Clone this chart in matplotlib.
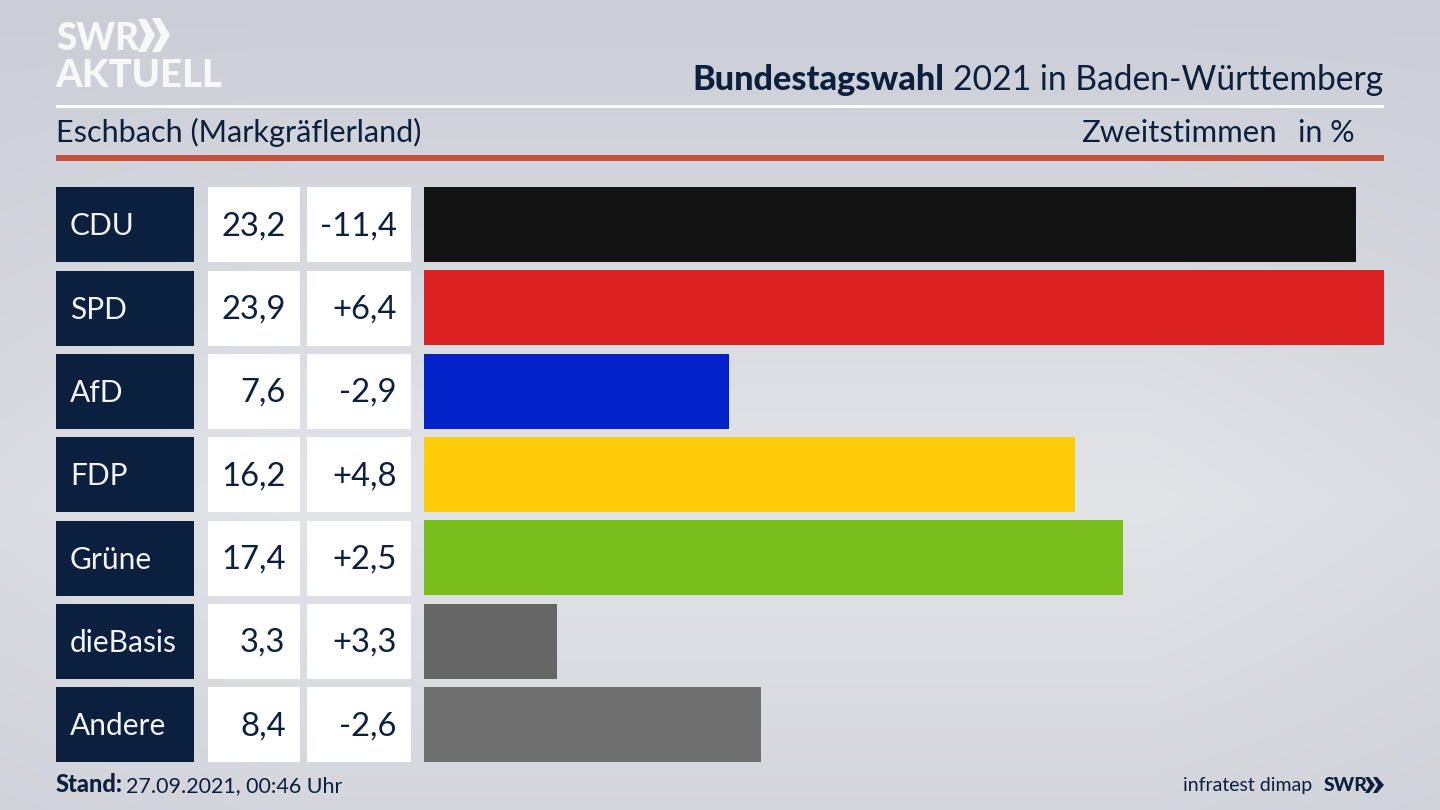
import numpy as np
import matplotlib
matplotlib.use("Agg")
import matplotlib.pyplot as plt
from matplotlib.patches import Rectangle, Polygon

parties = ["CDU", "SPD", "AfD", "FDP", "Grüne", "dieBasis", "Andere"]
shares = [23.2, 23.9, 7.6, 16.2, 17.4, 3.3, 8.4]
changes = ["-11,4", "+6,4", "-2,9", "+4,8", "+2,5", "+3,3", "-2,6"]
colors = ["#131313", "#da211f", "#0221c8", "#ffcc0a", "#78bd1c", "#666666", "#707071"]

NAVY = "#0b1f3f"
FONT = "Lato"
plt.rcParams["font.family"] = [FONT, "DejaVu Sans"]

fig = plt.figure(figsize=(14.4, 8.1), dpi=100)

# background + frame in pixel coordinates
ov = fig.add_axes([0, 0, 1, 1])
ov.set_xlim(0, 1440)
ov.set_ylim(810, 0)
ov.axis("off")

yy, xx = np.mgrid[0:1:162j, 0:1:288j]
v = 1 - np.abs(yy - 0.62) / 0.62
v = np.clip(v, 0, 1)
edge = 1 - np.clip((np.abs(xx - 0.5) - 0.3) / 0.2, 0, 1) * 0.35
t = (v * edge)[..., None]
top = np.array([203, 206, 213]) / 255
mid = np.array([226, 228, 232]) / 255
ov.imshow(top + (mid - top) * t, extent=(0, 1440, 810, 0), aspect="auto",
          interpolation="bicubic", zorder=0)


def rect(x0, y0, x1, y1, c, z=1):
    ov.add_patch(Rectangle((x0, y0), x1 - x0, y1 - y0, fc=c, ec="none", zorder=z))


rect(56, 104.5, 1384, 107.5, "#ffffff")
rect(56, 155, 1384, 160.5, "#c9503d")

# logo
LOGO = "#f7f8f9"
ov.text(56, 50, "SWR", fontsize=26.5, fontweight="black", color=LOGO, ha="left", va="baseline", zorder=2)
ov.text(55, 87, "AKTUELL", fontsize=27.5, fontweight="black", color=LOGO, ha="left", va="baseline", zorder=2)
ov.add_patch(Polygon([(138, 19), (146, 19), (155, 35), (146, 52), (138, 52), (146, 35)],
                     fc=LOGO, ec="none", zorder=2))
ov.add_patch(Polygon([(152, 18), (160, 18), (170, 35), (160, 52), (152, 52), (161, 35)],
                     fc=LOGO, ec="none", zorder=2))

# header text
ov.text(1383, 90, "2021 in Baden-Württemberg", fontsize=24.2, color=NAVY, ha="right", va="baseline")
ov.text(944, 90, "Bundestagswahl", fontsize=24.7, fontweight="black", color=NAVY, ha="right", va="baseline")
ov.text(56, 142, "Eschbach (Markgräflerland)", fontsize=22.1, color=NAVY, ha="left", va="baseline")
ov.text(1277, 142, "Zweitstimmen", fontsize=22.4, color=NAVY, ha="right", va="baseline")
ov.text(1355, 142, "in %", fontsize=22, color=NAVY, ha="right", va="baseline")

# table rows
pitch = 83.33
for i, (p, s, c) in enumerate(zip(parties, shares, changes)):
    y0 = 187.3 + i * pitch
    y1 = y0 + 75
    base = y0 + 48
    rect(56, y0, 193.5, y1, NAVY)
    rect(208, y0, 299.5, y1, "#ffffff")
    rect(307, y0, 410.5, y1, "#ffffff")
    ov.text(70, base, p, fontsize=21.5, color="#f2f3f5", ha="left", va="baseline", zorder=3)
    ov.text(285.5, base, f"{s:.1f}".replace(".", ","), fontsize=23.6, color=NAVY, ha="right", va="baseline", zorder=3)
    ov.text(396.5, base, c, fontsize=23.6, color=NAVY, ha="right", va="baseline", zorder=3)

# footer
ov.text(56, 792, "Stand:", fontsize=17, fontweight="black", color=NAVY, ha="left", va="baseline")
ov.text(126, 792, "27.09.2021, 00:46 Uhr", fontsize=15.5, color=NAVY, ha="left", va="baseline")
ov.text(1312, 791, "infratest dimap", fontsize=14, color=NAVY, ha="right", va="baseline")
ov.text(1324, 791, "SWR", fontsize=14, fontweight="black", color=NAVY, ha="left", va="baseline")
ov.add_patch(Polygon([(1365, 777), (1369, 777), (1375, 785), (1369, 793), (1365, 793), (1370, 785)],
                     fc=NAVY, ec="none", zorder=2))
ov.add_patch(Polygon([(1373, 777), (1377, 777), (1384, 785), (1377, 793), (1373, 793), (1378, 785)],
                     fc=NAVY, ec="none", zorder=2))

# bars, placed by the axes' data scales
W, H = 1440, 810
ax = fig.add_axes([424 / W, 1 - 762 / H, 960 / W, 575 / H])
ax.patch.set_alpha(0)
ax.barh(range(len(parties)), shares, height=0.9, color=colors)
ax.set_xlim(0, 23.9)
ax.set_ylim(6.45, -0.45)
ax.axis("off")

fig.savefig("out.png", dpi=100)
